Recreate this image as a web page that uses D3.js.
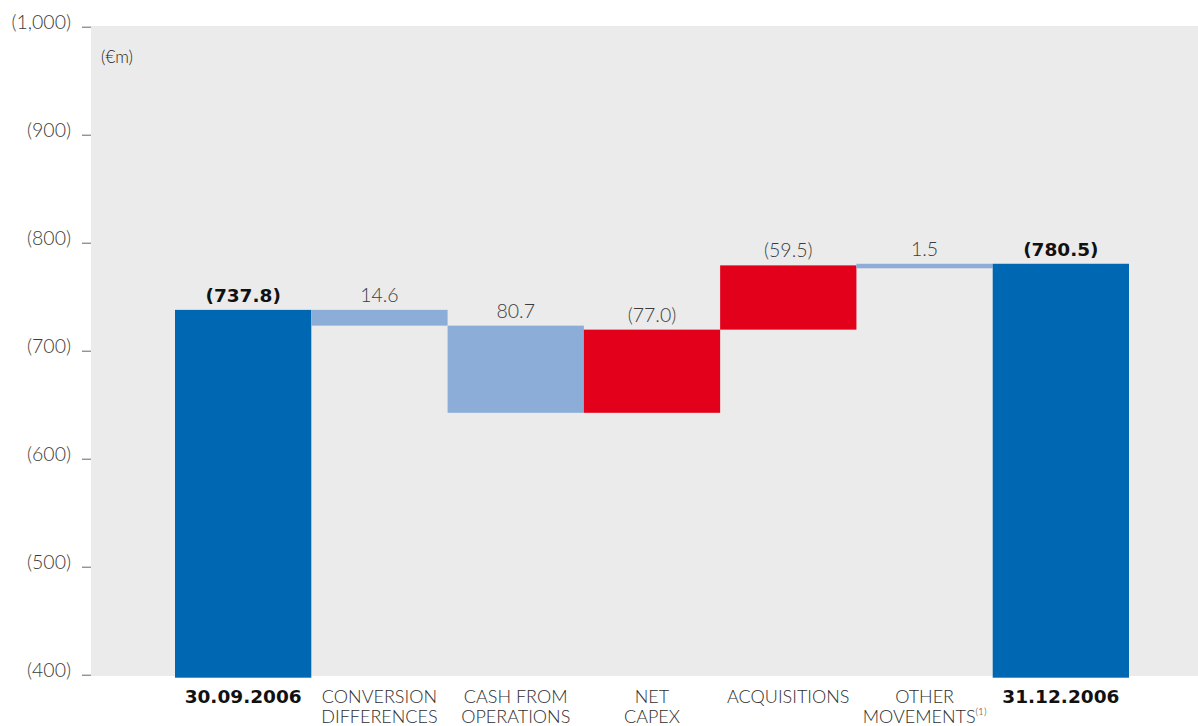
<!DOCTYPE html>
<html>
<head>
<meta charset="utf-8">
<script src="https://cdn.jsdelivr.net/npm/d3@7"></script>
<style>
  html, body { margin: 0; padding: 0; background: #ffffff; }
  svg { display: block; }
  .light { font-family: Lato, "Open Sans", sans-serif; font-weight: 300; }
  .bold { font-family: "DejaVu Sans", sans-serif; font-weight: bold; }
</style>
</head>
<body>
<svg id="chart" width="1198" height="726"></svg>
<script>
// ---- data ----
const categories = ["30.09.2006", "CONVERSION DIFFERENCES", "CASH FROM OPERATIONS", "NET CAPEX", "ACQUISITIONS", "OTHER MOVEMENTS", "31.12.2006"];
const categoryLines = [["30.09.2006"], ["CONVERSION", "DIFFERENCES"], ["CASH FROM", "OPERATIONS"], ["NET", "CAPEX"], ["ACQUISITIONS"], ["OTHER", "MOVEMENTS"], ["31.12.2006"]];
const categoryNotes = ["", "", "", "", "", "(1)", ""];
const changes = [737.8, -14.6, -80.7, 77.0, 59.5, 1.5, 780.5];
const kinds = ["total", "decrease", "decrease", "increase", "increase", "decrease", "total"];
const valueLabels = ["(737.8)", "14.6", "80.7", "(77.0)", "(59.5)", "1.5", "(780.5)"];
const yTicks = [400, 500, 600, 700, 800, 900, 1000];
const yTickLabels = ["(400)", "(500)", "(600)", "(700)", "(800)", "(900)", "(1,000)"];
const unitLabel = "(€m)";

// ---- waterfall table ----
let running = 0;
const rows = categories.map((c, i) => {
  let lo, hi;
  if (kinds[i] === "total") {
    running = changes[i];
    lo = 400; hi = changes[i];
  } else {
    const start = running;
    running = running + changes[i];
    lo = Math.min(start, running); hi = Math.max(start, running);
  }
  return { cat: c, lo, hi, kind: kinds[i], label: valueLabels[i], lines: categoryLines[i], note: categoryNotes[i] };
});

const colors = { total: "#0068b2", decrease: "#8badd8", increase: "#e2001a" };

const svg = d3.select("#chart");
const y = d3.scaleLinear().domain([400, 1000]).range([674.7, 26.7]);
const x = d3.scaleBand().domain(categories).range([175, 1129]).padding(0);

// plot background
svg.append("rect").attr("x", 91).attr("y", 26).attr("width", 1198 - 91).attr("height", 650).attr("fill", "#ebebeb");

// y axis
const axis = d3.axisLeft(y).tickValues(yTicks).tickFormat((d, i) => yTickLabels[i]).tickSize(9).tickPadding(11);
const gA = svg.append("g").attr("transform", "translate(91,0)").call(axis);
gA.select(".domain").remove();
gA.selectAll(".tick line").attr("stroke", "#666").attr("stroke-width", 1);
gA.selectAll(".tick text").attr("class", "light").attr("font-size", 19.5).attr("fill", "#3c3c3c").attr("dy", "0.1em");

// unit
svg.append("text").attr("class", "light").attr("x", 101).attr("y", 63).attr("font-size", 17).attr("fill", "#222").text(unitLabel);

// bars
svg.selectAll("rect.bar").data(rows).join("rect")
  .attr("class", "bar")
  .attr("x", d => x(d.cat))
  .attr("width", x.bandwidth())
  .attr("y", d => y(d.hi))
  .attr("height", d => d.kind === "total" ? y(d.lo) - y(d.hi) + 3 : Math.max(4.5, y(d.lo) - y(d.hi)))
  .attr("fill", d => colors[d.kind]);

// value labels
svg.selectAll("text.val").data(rows).join("text")
  .attr("class", d => "val " + (d.kind === "total" ? "bold" : "light"))
  .attr("x", d => x(d.cat) + x.bandwidth() / 2)
  .attr("y", d => y(d.hi) - 8)
  .attr("text-anchor", "middle")
  .attr("font-size", d => d.kind === "total" ? 18.5 : 19.5)
  .attr("fill", d => d.kind === "total" ? "#111" : "#3c3c3c")
  .text(d => d.label);

// category labels
const cl = svg.selectAll("g.cat").data(rows).join("g").attr("class", "cat")
  .attr("transform", d => `translate(${x(d.cat) + x.bandwidth() / 2},0)`);
cl.each(function (d) {
  const g = d3.select(this);
  const t = g.append("text")
    .attr("class", d.kind === "total" ? "bold" : "light")
    .attr("text-anchor", "middle")
    .attr("font-size", d.kind === "total" ? 18.5 : 18)
    .attr("fill", d.kind === "total" ? "#111" : "#2e2e2e");
  d.lines.forEach((ln, j) => {
    t.append("tspan").attr("x", 0).attr("y", 703 + j * 20).text(ln);
    if (j === d.lines.length - 1 && d.note) {
      t.append("tspan").attr("font-size", 10).attr("dy", -8).text(d.note);
    }
  });
});
</script>
</body>
</html>
